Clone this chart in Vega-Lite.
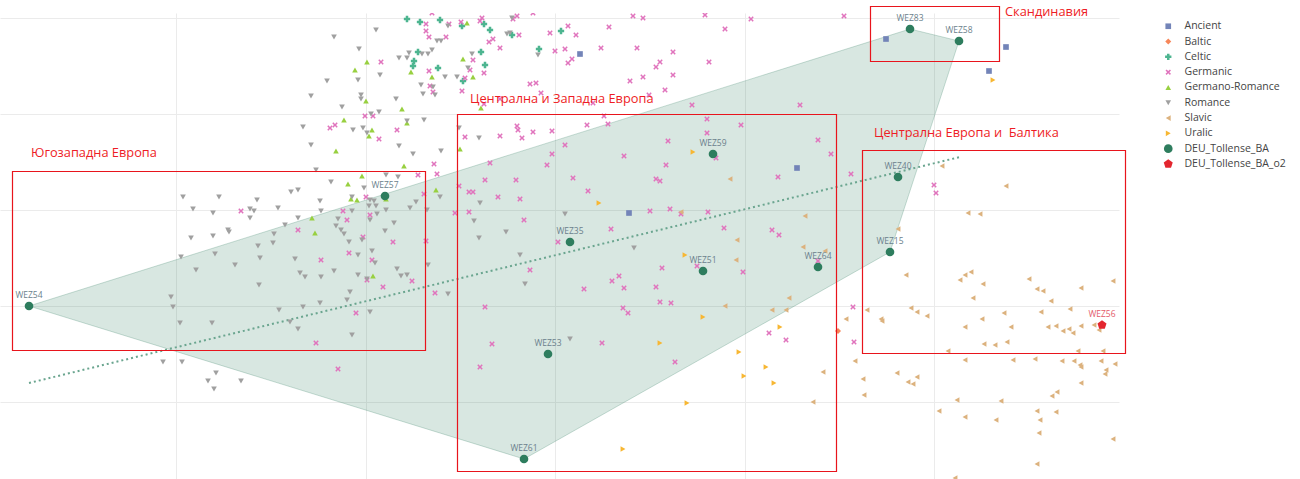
{
"$schema":"https://vega.github.io/schema/vega-lite/v6.json",
"width":1119,"height":466,
"autosize":{"type":"none"},
"padding":{"left":0,"top":13,"right":181,"bottom":0},
"background":"white",
"config":{"view":{"stroke":null},"axis":{"labels":false,"ticks":false,"domain":false,"title":null,"gridColor":"#ebebeb","gridWidth":1},"font":"Open Sans"},
"datasets":{
"pts":[
{"g":"Ancient","x":580,"y":54},{"g":"Ancient","x":629,"y":213},{"g":"Ancient","x":797,"y":168},{"g":"Ancient","x":886,"y":39},{"g":"Ancient","x":1006,"y":47},{"g":"Ancient","x":989,"y":71},
{"g":"Baltic","x":838,"y":331},
{"g":"Celtic","x":407,"y":19},{"g":"Celtic","x":420,"y":22},{"g":"Celtic","x":440,"y":20},{"g":"Celtic","x":462,"y":26},{"g":"Celtic","x":484,"y":24},{"g":"Celtic","x":490,"y":30},{"g":"Celtic","x":512,"y":35},{"g":"Celtic","x":561,"y":31},{"g":"Celtic","x":418,"y":52},{"g":"Celtic","x":414,"y":61},{"g":"Celtic","x":413,"y":66},{"g":"Celtic","x":438,"y":68},{"g":"Celtic","x":481,"y":52},{"g":"Celtic","x":485,"y":65},{"g":"Celtic","x":463,"y":81},{"g":"Celtic","x":539,"y":49},
{"g":"Germanic","x":434,"y":164},{"g":"Germanic","x":437,"y":174},{"g":"Germanic","x":418,"y":175},{"g":"Germanic","x":424,"y":194},{"g":"Germanic","x":366,"y":197},{"g":"Germanic","x":343,"y":211},{"g":"Germanic","x":370,"y":215},{"g":"Germanic","x":347,"y":220},{"g":"Germanic","x":241,"y":211},{"g":"Germanic","x":298,"y":230},{"g":"Germanic","x":363,"y":237},{"g":"Germanic","x":393,"y":242},{"g":"Germanic","x":426,"y":241},{"g":"Germanic","x":349,"y":253},{"g":"Germanic","x":321,"y":260},{"g":"Germanic","x":372,"y":260},{"g":"Germanic","x":367,"y":280},{"g":"Germanic","x":383,"y":287},{"g":"Germanic","x":412,"y":281},{"g":"Germanic","x":435,"y":293},{"g":"Germanic","x":356,"y":313},{"g":"Germanic","x":316,"y":343},{"g":"Germanic","x":338,"y":369},
{"g":"Germanic","x":432,"y":13},{"g":"Germanic","x":426,"y":24},{"g":"Germanic","x":426,"y":31},{"g":"Germanic","x":429,"y":37},{"g":"Germanic","x":446,"y":37},{"g":"Germanic","x":449,"y":24},{"g":"Germanic","x":461,"y":22},{"g":"Germanic","x":480,"y":21},{"g":"Germanic","x":482,"y":18},{"g":"Germanic","x":517,"y":16},{"g":"Germanic","x":513,"y":19},{"g":"Germanic","x":533,"y":13},{"g":"Germanic","x":489,"y":42},{"g":"Germanic","x":493,"y":39},{"g":"Germanic","x":500,"y":48},{"g":"Germanic","x":519,"y":35},{"g":"Germanic","x":550,"y":33},{"g":"Germanic","x":568,"y":26},{"g":"Germanic","x":576,"y":35},{"g":"Germanic","x":572,"y":59},{"g":"Germanic","x":568,"y":63},{"g":"Germanic","x":565,"y":49},{"g":"Germanic","x":555,"y":51},{"g":"Germanic","x":601,"y":48},{"g":"Germanic","x":609,"y":27},{"g":"Germanic","x":633,"y":16},{"g":"Germanic","x":643,"y":18},{"g":"Germanic","x":637,"y":48},{"g":"Germanic","x":660,"y":62},{"g":"Germanic","x":656,"y":67},{"g":"Germanic","x":673,"y":52},{"g":"Germanic","x":643,"y":77},{"g":"Germanic","x":630,"y":81},{"g":"Germanic","x":673,"y":75},{"g":"Germanic","x":665,"y":90},{"g":"Germanic","x":649,"y":95},{"g":"Germanic","x":593,"y":103},{"g":"Germanic","x":604,"y":116},{"g":"Germanic","x":608,"y":124},{"g":"Germanic","x":587,"y":125},{"g":"Germanic","x":536,"y":83},{"g":"Germanic","x":530,"y":84},{"g":"Germanic","x":541,"y":93},{"g":"Germanic","x":500,"y":99},{"g":"Germanic","x":484,"y":104},{"g":"Germanic","x":473,"y":60},{"g":"Germanic","x":470,"y":70},{"g":"Germanic","x":484,"y":73},{"g":"Germanic","x":465,"y":78},{"g":"Germanic","x":462,"y":91},{"g":"Germanic","x":429,"y":71},{"g":"Germanic","x":430,"y":86},{"g":"Germanic","x":433,"y":92},{"g":"Germanic","x":381,"y":62},{"g":"Germanic","x":365,"y":116},{"g":"Germanic","x":373,"y":116},{"g":"Germanic","x":330,"y":128},{"g":"Germanic","x":335,"y":125},{"g":"Germanic","x":397,"y":130},{"g":"Germanic","x":379,"y":139},{"g":"Germanic","x":465,"y":137},{"g":"Germanic","x":500,"y":136},{"g":"Germanic","x":517,"y":126},{"g":"Germanic","x":518,"y":130},{"g":"Germanic","x":522,"y":138},{"g":"Germanic","x":533,"y":132},{"g":"Germanic","x":552,"y":131},{"g":"Germanic","x":565,"y":145},{"g":"Germanic","x":552,"y":154},{"g":"Germanic","x":547,"y":165},{"g":"Germanic","x":490,"y":163},{"g":"Germanic","x":573,"y":178},{"g":"Germanic","x":516,"y":180},{"g":"Germanic","x":485,"y":180},{"g":"Germanic","x":624,"y":156},{"g":"Germanic","x":668,"y":141},{"g":"Germanic","x":666,"y":165},{"g":"Germanic","x":656,"y":179},
{"g":"Germanic","x":705,"y":15},{"g":"Germanic","x":751,"y":19},{"g":"Germanic","x":725,"y":29},{"g":"Germanic","x":844,"y":16},{"g":"Germanic","x":709,"y":62},{"g":"Germanic","x":692,"y":105},{"g":"Germanic","x":800,"y":105},{"g":"Germanic","x":707,"y":119},{"g":"Germanic","x":707,"y":133},{"g":"Germanic","x":741,"y":125},{"g":"Germanic","x":716,"y":158},{"g":"Germanic","x":818,"y":140},{"g":"Germanic","x":831,"y":154},{"g":"Germanic","x":778,"y":177},{"g":"Germanic","x":851,"y":174},{"g":"Germanic","x":660,"y":181},{"g":"Germanic","x":934,"y":185},{"g":"Germanic","x":936,"y":193},
{"g":"Germanic","x":459,"y":186},{"g":"Germanic","x":469,"y":192},{"g":"Germanic","x":473,"y":192},{"g":"Germanic","x":498,"y":197},{"g":"Germanic","x":520,"y":199},{"g":"Germanic","x":588,"y":191},{"g":"Germanic","x":455,"y":213},{"g":"Germanic","x":469,"y":212},{"g":"Germanic","x":524,"y":220},{"g":"Germanic","x":611,"y":229},{"g":"Germanic","x":650,"y":211},{"g":"Germanic","x":670,"y":209},{"g":"Germanic","x":681,"y":214},{"g":"Germanic","x":708,"y":212},{"g":"Germanic","x":724,"y":228},{"g":"Germanic","x":772,"y":230},{"g":"Germanic","x":779,"y":235},{"g":"Germanic","x":558,"y":242},{"g":"Germanic","x":530,"y":270},{"g":"Germanic","x":619,"y":276},{"g":"Germanic","x":612,"y":281},{"g":"Germanic","x":584,"y":289},{"g":"Germanic","x":624,"y":288},{"g":"Germanic","x":656,"y":287},{"g":"Germanic","x":662,"y":268},{"g":"Germanic","x":697,"y":266},{"g":"Germanic","x":743,"y":272},{"g":"Germanic","x":818,"y":261},{"g":"Germanic","x":485,"y":307},{"g":"Germanic","x":623,"y":308},{"g":"Germanic","x":628,"y":313},{"g":"Germanic","x":660,"y":302},{"g":"Germanic","x":671,"y":303},{"g":"Germanic","x":492,"y":344},{"g":"Germanic","x":602,"y":343},{"g":"Germanic","x":480,"y":367},{"g":"Germanic","x":675,"y":362},{"g":"Germanic","x":769,"y":333},{"g":"Germanic","x":786,"y":340},{"g":"Germanic","x":853,"y":307},{"g":"Germanic","x":854,"y":342},
{"g":"Germano-Romance","x":467,"y":23},{"g":"Germano-Romance","x":367,"y":62},{"g":"Germano-Romance","x":355,"y":70},{"g":"Germano-Romance","x":411,"y":72},{"g":"Germano-Romance","x":463,"y":59},{"g":"Germano-Romance","x":432,"y":77},{"g":"Germano-Romance","x":473,"y":77},{"g":"Germano-Romance","x":366,"y":101},{"g":"Germano-Romance","x":402,"y":109},{"g":"Germano-Romance","x":481,"y":108},{"g":"Germano-Romance","x":344,"y":120},{"g":"Germano-Romance","x":407,"y":123},{"g":"Germano-Romance","x":372,"y":130},{"g":"Germano-Romance","x":369,"y":136},{"g":"Germano-Romance","x":336,"y":151},{"g":"Germano-Romance","x":404,"y":166},{"g":"Germano-Romance","x":460,"y":149},{"g":"Germano-Romance","x":362,"y":176},{"g":"Germano-Romance","x":348,"y":184},{"g":"Germano-Romance","x":351,"y":199},{"g":"Germano-Romance","x":357,"y":200},{"g":"Germano-Romance","x":386,"y":199},{"g":"Germano-Romance","x":436,"y":190},{"g":"Germano-Romance","x":312,"y":218},{"g":"Germano-Romance","x":315,"y":233},{"g":"Germano-Romance","x":373,"y":276},
{"g":"Romance","x":376,"y":30},{"g":"Romance","x":334,"y":37},{"g":"Romance","x":359,"y":49},{"g":"Romance","x":327,"y":81},{"g":"Romance","x":358,"y":80},{"g":"Romance","x":380,"y":75},{"g":"Romance","x":399,"y":58},{"g":"Romance","x":407,"y":58},{"g":"Romance","x":409,"y":53},{"g":"Romance","x":422,"y":54},{"g":"Romance","x":428,"y":54},{"g":"Romance","x":432,"y":50},{"g":"Romance","x":437,"y":41},{"g":"Romance","x":441,"y":41},{"g":"Romance","x":448,"y":26},{"g":"Romance","x":445,"y":77},{"g":"Romance","x":457,"y":77},{"g":"Romance","x":468,"y":68},{"g":"Romance","x":472,"y":54},{"g":"Romance","x":421,"y":85},{"g":"Romance","x":433,"y":87},{"g":"Romance","x":435,"y":95},{"g":"Romance","x":423,"y":94},{"g":"Romance","x":361,"y":95},{"g":"Romance","x":361,"y":99},{"g":"Romance","x":311,"y":96},{"g":"Romance","x":396,"y":99},{"g":"Romance","x":342,"y":107},{"g":"Romance","x":371,"y":114},{"g":"Romance","x":379,"y":112},{"g":"Romance","x":303,"y":127},{"g":"Romance","x":353,"y":130},{"g":"Romance","x":363,"y":128},{"g":"Romance","x":367,"y":133},{"g":"Romance","x":424,"y":120},{"g":"Romance","x":407,"y":121},{"g":"Romance","x":311,"y":145},{"g":"Romance","x":399,"y":146},{"g":"Romance","x":413,"y":154},{"g":"Romance","x":441,"y":151},{"g":"Romance","x":316,"y":170},{"g":"Romance","x":386,"y":175},{"g":"Romance","x":398,"y":177},{"g":"Romance","x":459,"y":128},{"g":"Romance","x":479,"y":138},{"g":"Romance","x":507,"y":34},{"g":"Romance","x":512,"y":18},{"g":"Romance","x":538,"y":55},{"g":"Romance","x":510,"y":33},
{"g":"Romance","x":331,"y":182},{"g":"Romance","x":364,"y":188},{"g":"Romance","x":291,"y":192},{"g":"Romance","x":298,"y":190},{"g":"Romance","x":183,"y":197},{"g":"Romance","x":219,"y":197},{"g":"Romance","x":257,"y":200},{"g":"Romance","x":320,"y":201},{"g":"Romance","x":352,"y":197},{"g":"Romance","x":370,"y":200},{"g":"Romance","x":374,"y":201},{"g":"Romance","x":193,"y":209},{"g":"Romance","x":213,"y":213},{"g":"Romance","x":250,"y":209},{"g":"Romance","x":254,"y":211},{"g":"Romance","x":278,"y":208},{"g":"Romance","x":321,"y":211},{"g":"Romance","x":352,"y":211},{"g":"Romance","x":369,"y":206},{"g":"Romance","x":376,"y":206},{"g":"Romance","x":377,"y":214},{"g":"Romance","x":386,"y":210},{"g":"Romance","x":416,"y":202},{"g":"Romance","x":410,"y":208},{"g":"Romance","x":427,"y":210},{"g":"Romance","x":440,"y":197},{"g":"Romance","x":250,"y":218},{"g":"Romance","x":298,"y":218},{"g":"Romance","x":338,"y":219},{"g":"Romance","x":370,"y":220},{"g":"Romance","x":394,"y":223},{"g":"Romance","x":285,"y":225},{"g":"Romance","x":336,"y":226},{"g":"Romance","x":341,"y":230},{"g":"Romance","x":344,"y":234},{"g":"Romance","x":228,"y":230},{"g":"Romance","x":229,"y":232},{"g":"Romance","x":274,"y":234},{"g":"Romance","x":385,"y":231},{"g":"Romance","x":191,"y":238},{"g":"Romance","x":213,"y":236},{"g":"Romance","x":273,"y":243},{"g":"Romance","x":362,"y":240},{"g":"Romance","x":349,"y":242},{"g":"Romance","x":258,"y":246},{"g":"Romance","x":372,"y":251},{"g":"Romance","x":358,"y":255},{"g":"Romance","x":181,"y":257},{"g":"Romance","x":215,"y":254},{"g":"Romance","x":260,"y":258},{"g":"Romance","x":295,"y":259},{"g":"Romance","x":375,"y":263},{"g":"Romance","x":428,"y":265},{"g":"Romance","x":235,"y":265},{"g":"Romance","x":196,"y":270},{"g":"Romance","x":300,"y":273},{"g":"Romance","x":305,"y":277},{"g":"Romance","x":321,"y":277},{"g":"Romance","x":334,"y":271},{"g":"Romance","x":358,"y":275},{"g":"Romance","x":397,"y":269},{"g":"Romance","x":401,"y":276},{"g":"Romance","x":407,"y":275},{"g":"Romance","x":367,"y":279},{"g":"Romance","x":448,"y":294},{"g":"Romance","x":259,"y":285},{"g":"Romance","x":350,"y":292},{"g":"Romance","x":347,"y":300},{"g":"Romance","x":320,"y":303},{"g":"Romance","x":303,"y":307},{"g":"Romance","x":171,"y":297},{"g":"Romance","x":173,"y":307},{"g":"Romance","x":279,"y":310},{"g":"Romance","x":370,"y":312},{"g":"Romance","x":180,"y":323},{"g":"Romance","x":212,"y":323},{"g":"Romance","x":290,"y":322},{"g":"Romance","x":298,"y":329},{"g":"Romance","x":352,"y":335},{"g":"Romance","x":163,"y":362},{"g":"Romance","x":182,"y":362},{"g":"Romance","x":216,"y":373},{"g":"Romance","x":208,"y":381},{"g":"Romance","x":241,"y":381},{"g":"Romance","x":214,"y":389},
{"g":"Romance","x":480,"y":203},{"g":"Romance","x":474,"y":221},{"g":"Romance","x":479,"y":238},{"g":"Romance","x":506,"y":232},{"g":"Romance","x":565,"y":214},{"g":"Romance","x":520,"y":255},{"g":"Romance","x":634,"y":248},{"g":"Romance","x":525,"y":284},{"g":"Romance","x":570,"y":339},
{"g":"Slavic","x":730,"y":179},{"g":"Slavic","x":942,"y":166},{"g":"Slavic","x":1006,"y":186},{"g":"Slavic","x":681,"y":212},{"g":"Slavic","x":805,"y":216},{"g":"Slavic","x":737,"y":240},{"g":"Slavic","x":803,"y":247},{"g":"Slavic","x":825,"y":251},{"g":"Slavic","x":736,"y":260},{"g":"Slavic","x":789,"y":298},{"g":"Slavic","x":725,"y":306},{"g":"Slavic","x":772,"y":310},{"g":"Slavic","x":786,"y":310},{"g":"Slavic","x":846,"y":319},{"g":"Slavic","x":823,"y":372},{"g":"Slavic","x":813,"y":402},{"g":"Slavic","x":855,"y":361},
{"g":"Slavic","x":968,"y":213},{"g":"Slavic","x":980,"y":214},{"g":"Slavic","x":898,"y":229},{"g":"Slavic","x":906,"y":275},{"g":"Slavic","x":965,"y":275},{"g":"Slavic","x":971,"y":272},{"g":"Slavic","x":960,"y":280},{"g":"Slavic","x":983,"y":284},{"g":"Slavic","x":1029,"y":279},{"g":"Slavic","x":1037,"y":289},{"g":"Slavic","x":1043,"y":291},{"g":"Slavic","x":1081,"y":288},{"g":"Slavic","x":1113,"y":281},{"g":"Slavic","x":973,"y":298},{"g":"Slavic","x":1051,"y":301},{"g":"Slavic","x":867,"y":310},{"g":"Slavic","x":881,"y":319},{"g":"Slavic","x":882,"y":321},{"g":"Slavic","x":911,"y":308},{"g":"Slavic","x":917,"y":312},{"g":"Slavic","x":927,"y":316},{"g":"Slavic","x":982,"y":319},{"g":"Slavic","x":1004,"y":313},{"g":"Slavic","x":1041,"y":312},{"g":"Slavic","x":1070,"y":309},{"g":"Slavic","x":965,"y":327},{"g":"Slavic","x":1011,"y":327},{"g":"Slavic","x":1048,"y":327},{"g":"Slavic","x":1056,"y":326},{"g":"Slavic","x":1063,"y":331},{"g":"Slavic","x":1069,"y":329},{"g":"Slavic","x":1073,"y":333},{"g":"Slavic","x":1081,"y":326},{"g":"Slavic","x":1094,"y":325},{"g":"Slavic","x":1099,"y":330},{"g":"Slavic","x":984,"y":344},{"g":"Slavic","x":995,"y":345},{"g":"Slavic","x":1007,"y":342},{"g":"Slavic","x":948,"y":351},{"g":"Slavic","x":1078,"y":351},{"g":"Slavic","x":1103,"y":351},{"g":"Slavic","x":965,"y":360},{"g":"Slavic","x":1013,"y":360},{"g":"Slavic","x":1035,"y":359},{"g":"Slavic","x":1062,"y":361},{"g":"Slavic","x":1074,"y":361},{"g":"Slavic","x":1080,"y":365},{"g":"Slavic","x":1081,"y":367},{"g":"Slavic","x":1101,"y":361},{"g":"Slavic","x":1115,"y":364},{"g":"Slavic","x":1106,"y":370},{"g":"Slavic","x":1105,"y":374},{"g":"Slavic","x":897,"y":373},{"g":"Slavic","x":863,"y":379},{"g":"Slavic","x":908,"y":382},{"g":"Slavic","x":913,"y":384},{"g":"Slavic","x":917,"y":377},{"g":"Slavic","x":864,"y":395},{"g":"Slavic","x":1081,"y":383},{"g":"Slavic","x":1057,"y":392},{"g":"Slavic","x":1052,"y":396},{"g":"Slavic","x":957,"y":400},{"g":"Slavic","x":1001,"y":401},{"g":"Slavic","x":939,"y":411},{"g":"Slavic","x":965,"y":417},{"g":"Slavic","x":996,"y":420},{"g":"Slavic","x":1037,"y":411},{"g":"Slavic","x":1040,"y":420},{"g":"Slavic","x":1056,"y":412},{"g":"Slavic","x":1039,"y":433},{"g":"Slavic","x":1113,"y":439},{"g":"Slavic","x":1037,"y":464},{"g":"Slavic","x":955,"y":478},
{"g":"Uralic","x":993,"y":80},{"g":"Uralic","x":693,"y":152},{"g":"Uralic","x":599,"y":203},{"g":"Uralic","x":685,"y":255},{"g":"Uralic","x":703,"y":317},{"g":"Uralic","x":660,"y":343},{"g":"Uralic","x":780,"y":327},{"g":"Uralic","x":739,"y":352},{"g":"Uralic","x":744,"y":376},{"g":"Uralic","x":766,"y":367},{"g":"Uralic","x":774,"y":383},{"g":"Uralic","x":687,"y":403},{"g":"Uralic","x":623,"y":449},
{"g":"DEU_Tollense_BA","x":29,"y":306,"id":"WEZ54"},{"g":"DEU_Tollense_BA","x":385,"y":196,"id":"WEZ57"},{"g":"DEU_Tollense_BA","x":910,"y":29,"id":"WEZ83"},{"g":"DEU_Tollense_BA","x":959,"y":41,"id":"WEZ58"},{"g":"DEU_Tollense_BA","x":713,"y":154,"id":"WEZ59"},{"g":"DEU_Tollense_BA","x":898,"y":177,"id":"WEZ40"},{"g":"DEU_Tollense_BA","x":570,"y":242,"id":"WEZ35"},{"g":"DEU_Tollense_BA","x":703,"y":271,"id":"WEZ51"},{"g":"DEU_Tollense_BA","x":818,"y":267,"id":"WEZ64"},{"g":"DEU_Tollense_BA","x":890,"y":252,"id":"WEZ15"},{"g":"DEU_Tollense_BA","x":548,"y":354,"id":"WEZ53"},{"g":"DEU_Tollense_BA","x":524,"y":459,"id":"WEZ61"},
{"g":"DEU_Tollense_BA_o2","x":1102,"y":325,"id":"WEZ56"}
]},
"layer":[
{"data":{"values":[{"i":0,"x":29,"y":306},{"i":1,"x":910,"y":29},{"i":2,"x":959,"y":41},{"i":3,"x":890,"y":252},{"i":4,"x":524,"y":459},{"i":5,"x":29,"y":306}]},
"mark":{"type":"line","fill":"#2e7d5e","fillOpacity":0.19,"stroke":"#2e7d5e","strokeOpacity":0.25,"strokeWidth":1},
"encoding":{"x":{"field":"x","type":"quantitative","scale":{"domain":[0,1119],"nice":false,"zero":false},"axis":{"values":[176,366,555,745,934],"grid":true}},
"y":{"field":"y","type":"quantitative","scale":{"domain":[13,479],"reverse":true,"nice":false,"zero":false},"axis":{"values":[18,114,210,306,402],"grid":true}},
"order":{"field":"i","type":"quantitative"}}},
{"data":{"values":[{"x":29,"y":383},{"x":960,"y":157}]},
"mark":{"type":"line","color":"#6aa58f","strokeWidth":2,"strokeDash":[2,3]},
"encoding":{"x":{"field":"x","type":"quantitative"},"y":{"field":"y","type":"quantitative"}}},
{"data":{"name":"pts"},
"mark":{"type":"point","filled":true,"opacity":1,"clip":true},
"encoding":{"x":{"field":"x","type":"quantitative"},"y":{"field":"y","type":"quantitative"},
"color":{"field":"g","type":"nominal","scale":{"domain":["Ancient","Baltic","Celtic","Germanic","Germano-Romance","Romance","Slavic","Uralic","DEU_Tollense_BA","DEU_Tollense_BA_o2"],"range":["#7384b8","#f7875a","#4db590","#e074bd","#98d040","#a0a0a0","#dcb27e","#f7b733","#2e7d5e","#e3262f"]},
"legend":{"title":null,"orient":"none","legendX":1163,"legendY":8,"labelFontSize":10.5,"labelColor":"#444","labelFont":"Open Sans","labelOffset":11,"rowPadding":4.3,"symbolStrokeWidth":0}},
"shape":{"field":"g","type":"nominal","scale":{"domain":["Ancient","Baltic","Celtic","Germanic","Germano-Romance","Romance","Slavic","Uralic","DEU_Tollense_BA","DEU_Tollense_BA_o2"],"range":["square","diamond","cross","M-1,-0.6L-0.6,-1L0,-0.4L0.6,-1L1,-0.6L0.4,0L1,0.6L0.6,1L0,0.4L-0.6,1L-1,0.6L-0.4,0Z","triangle-up","triangle-down","triangle-left","triangle-right","circle","M0,-1L0.951,-0.309L0.588,0.809L-0.588,0.809L-0.951,-0.309Z"]}},
"size":{"field":"g","type":"nominal","scale":{"type":"ordinal","domain":["Ancient","Baltic","Celtic","Germanic","Germano-Romance","Romance","Slavic","Uralic","DEU_Tollense_BA","DEU_Tollense_BA_o2"],"range":[32,36,40,30,32,32,32,32,75,90]}}}},
{"data":{"name":"pts"},
"transform":[{"filter":"datum.id"}],
"mark":{"type":"text","fontSize":8.5,"dy":-11,"baseline":"middle","align":"center","font":"Open Sans"},
"encoding":{"x":{"field":"x","type":"quantitative"},"y":{"field":"y","type":"quantitative"},"text":{"field":"id"},
"color":{"condition":{"test":"datum.g=='DEU_Tollense_BA_o2'","value":"#e35a6a"},"value":"#6b7f8c"}}},
{"data":{"values":[{"x":12.5,"x2":425.5,"y":171.5,"y2":350.5},{"x":457.5,"x2":836.5,"y":114.5,"y2":471.5},{"x":870.5,"x2":999.5,"y":6.5,"y2":61.5},{"x":862.5,"x2":1125.5,"y":150.5,"y2":353.5}]},
"mark":{"type":"rect","filled":false,"stroke":"#e8141c","opacity":1,"strokeOpacity":1,"strokeWidth":1.2},
"encoding":{"x":{"field":"x","type":"quantitative"},"x2":{"field":"x2"},"y":{"field":"y","type":"quantitative"},"y2":{"field":"y2"}}},
{"data":{"values":[{"t":"Югозападна Европа","x":31,"y":153},{"t":"Централна и Западна Европа","x":470,"y":99},{"t":"Скандинавия","x":1005,"y":12},{"t":"Централна Европа и \u00a0Балтика","x":874,"y":133}]},
"mark":{"type":"text","align":"left","baseline":"middle","fontSize":12.8,"font":"Open Sans","color":"#ee1c25"},
"encoding":{"x":{"field":"x","type":"quantitative"},"y":{"field":"y","type":"quantitative"},"text":{"field":"t"}}}
]
}
